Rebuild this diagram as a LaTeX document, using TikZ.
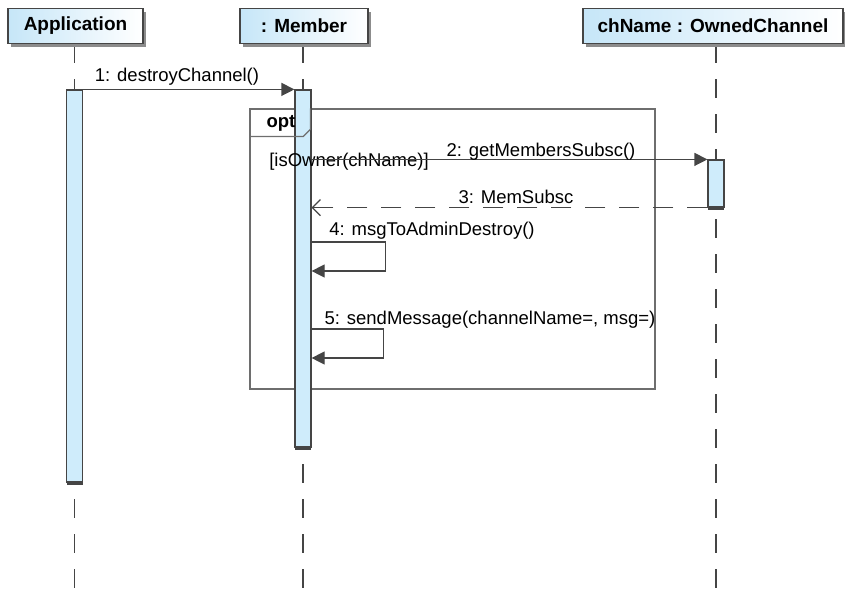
\documentclass[tikz,border=0pt]{standalone}
\usepackage{fontspec}
\setmainfont{Liberation Sans}
\usetikzlibrary{arrows.meta, shadows, backgrounds}
\usepackage{xcolor}
\definecolor{hdrfill}{HTML}{C6E6F8}
\definecolor{actfill}{HTML}{CFECFB}
\definecolor{linestr}{HTML}{454545}
\definecolor{framestr}{HTML}{6E6E6E}
\definecolor{shadowgray}{HTML}{8C8C8C}
\tikzset{
  hdr/.style  ={rectangle, draw=linestr, left color=hdrfill, right color=white,
                line width=1.2pt, minimum height=35pt, inner sep=0pt,
                font=\fontsize{19}{21}\selectfont\bfseries,
                drop shadow={shadow xshift=3pt, shadow yshift=-3pt, fill=shadowgray, opacity=1}},
  act/.style  ={rectangle, draw=linestr, fill=actfill, line width=1.2pt,
                minimum width=16pt, inner sep=0pt,
                drop shadow={shadow xshift=0pt, shadow yshift=-3pt, fill=linestr, opacity=1}},
  life/.style ={draw=linestr, line width=1.2pt, dash pattern=on 19pt off 16pt},
  lbl/.style  ={font=\fontsize{18.5}{20}\selectfont, inner sep=0pt},
  frm/.style  ={rectangle, draw=framestr, line width=1.2pt, inner sep=0pt},
  call/.style ={-{Triangle[length=13pt, width=13pt, fill=linestr]}, draw=linestr, line width=1.2pt},
  reply/.style={-{Straight Barb[length=8pt, width=16pt]}, draw=linestr, line width=1.2pt,
                dash pattern=on 20pt off 14pt},
}
\begin{document}
\begin{tikzpicture}[x=1pt, y=-1pt]
  \useasboundingbox (0,0) rectangle (845,590);
  \node[hdr, minimum width=135pt] (apphdr) at (75.5,26) {Application};
  \node[hdr, minimum width=128pt] (memhdr) at (304,26) {: Member};
  \node[hdr, minimum width=260pt] (ownhdr) at (713,26) {chName : OwnedChannel};
  \node[frm, minimum width=405pt, minimum height=280pt] (optfrm) at (452.5,249) {};
  \node[act, minimum height=392pt] (appact) at (74.5,286) {};
  \node[act, minimum height=357pt] (memact) at (303,268.5) {};
  \node[act, minimum height=47pt] (ownact) at (716,183.5) {};
  \begin{scope}[on background layer]
    \draw[life] (apphdr.south -| appact) -- (appact |- 0,590);
    \draw[life] (memhdr.south -| memact) -- (memact |- 0,590);
    \draw[life] (ownhdr.south -| ownact) -- (ownact |- 0,590);
  \end{scope}
  \draw[frm] (optfrm.north west) ++(0,28) -- ++(54,0) -- ++(7,-7) -- ++(0,-21);
  \node[lbl, font=\fontsize{18.5}{20}\selectfont\bfseries] (optlbl) at (281,123) {opt};
  \draw[call] (appact.north east) -- (memact.north west);
  \node[lbl] (m1) at (177,77) {1: destroyChannel()};
  \node[lbl] (guard) at (349,162) {[isOwner(chName)]};
  \draw[call] (ownact.north west -| memact.east) -- (ownact.north west);
  \node[lbl] (m2) at (541,152) {2: getMembersSubsc()};
  \draw[reply] (ownact.south west) -- (ownact.south west -| memact.east);
  \node[lbl] (m3) at (516,197) {3: MemSubsc};
  \coordinate (s4a) at (0,242);
  \coordinate (s4b) at (0,271);
  \draw[call] (s4a -| memact.east) -- ++(74,0) |- (s4b -| memact.east);
  \node[lbl] (m4) at (432,231) {4: msgToAdminDestroy()};
  \coordinate (s5a) at (0,329);
  \coordinate (s5b) at (0,358);
  \draw[call] (s5a -| memact.east) -- ++(72,0) |- (s5b -| memact.east);
  \node[lbl] (m5) at (490,320) {5: sendMessage(channelName=, msg=)};
\end{tikzpicture}
\end{document}
